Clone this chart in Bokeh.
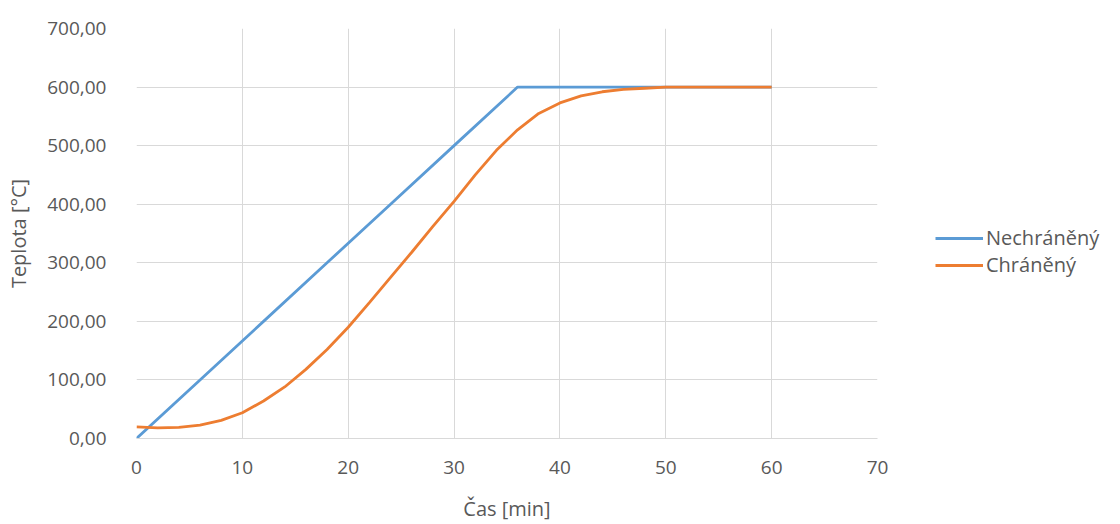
from bokeh.plotting import figure
from bokeh.models import Legend, LegendItem, FixedTicker, CustomJSTickFormatter, Range1d
from bokeh.embed import file_html
from bokeh.resources import INLINE

# Data
t_unprot = [0, 6, 12, 18, 24, 30, 36, 40, 44, 48, 52, 56, 60]
T_unprot = [0, 100, 200, 300, 400, 500, 600, 600, 600, 600, 600, 600, 600]

t_prot = [0, 2, 4, 6, 8, 10, 12, 14, 16, 18, 20, 22, 24, 26, 28, 30, 32, 34, 36, 38, 40, 42, 44, 46, 48, 50, 52, 54, 56, 58, 60]
T_prot = [20, 18, 19, 23, 31, 44, 64, 88, 118, 152, 190, 232, 275, 318, 362, 405, 450, 492, 527, 555, 573, 585, 592, 596, 598, 600, 600, 600, 600, 600, 600]

x_ticks = [0, 10, 20, 30, 40, 50, 60, 70]
y_ticks = [0, 100, 200, 300, 400, 500, 600, 700]

series_names = ["Nechráněný", "Chráněný"]
series_colors = ["#5B9BD5", "#ED7D31"]

FONT = "Open Sans"
TXT = "#595959"
GRID = "#D9D9D9"

p = figure(width=1120, height=524, frame_width=741, frame_height=410,
           min_border_left=136, min_border_right=243, min_border_top=28, min_border_bottom=86,
           x_range=Range1d(0, 70), y_range=Range1d(0, 700),
           output_backend="svg", toolbar_location=None, tools="")

p.outline_line_color = None
p.background_fill_color = "white"
p.border_fill_color = "white"

r1 = p.line(t_unprot, T_unprot, line_color=series_colors[0], line_width=2.8)
r2 = p.line(t_prot, T_prot, line_color=series_colors[1], line_width=2.8)

p.xaxis.ticker = FixedTicker(ticks=x_ticks)
p.yaxis.ticker = FixedTicker(ticks=y_ticks)
p.yaxis.formatter = CustomJSTickFormatter(code="return tick.toFixed(2).replace('.', ',');")

for ax in (p.xaxis, p.yaxis):
    ax.major_tick_line_color = None
    ax.minor_tick_line_color = None
    ax.major_label_text_font = FONT
    ax.major_label_text_font_size = "19px"
    ax.major_label_text_color = TXT
    ax.axis_label_text_font = FONT
    ax.axis_label_text_font_size = "20px"
    ax.axis_label_text_color = TXT
    ax.axis_label_text_font_style = "normal"

p.xaxis.axis_line_color = GRID
p.xaxis.axis_line_width = 1.2
p.yaxis.axis_line_color = None
p.xaxis.major_label_standoff = 16
p.yaxis.major_label_standoff = 24
p.xaxis.axis_label = "Čas [min]"
p.yaxis.axis_label = "Teplota [°C]"
p.xaxis.axis_label_standoff = 18
p.yaxis.axis_label_standoff = 12

p.xgrid.grid_line_color = GRID
p.ygrid.grid_line_color = GRID
p.xgrid.ticker = FixedTicker(ticks=x_ticks)
p.ygrid.ticker = FixedTicker(ticks=y_ticks)

legend = Legend(items=[LegendItem(label=series_names[0], renderers=[r1]),
                       LegendItem(label=series_names[1], renderers=[r2])],
                location=(58, 160), orientation="vertical")
legend.border_line_color = None
legend.background_fill_alpha = 0
legend.label_text_font = FONT
legend.label_text_font_size = "20px"
legend.label_text_color = TXT
legend.glyph_width = 48
legend.glyph_height = 20
legend.label_height = 20
legend.label_standoff = 3
legend.spacing = 0
legend.padding = 0
legend.margin = 0
p.add_layout(legend, "right")

open("out.html", "w").write(file_html(p, INLINE))
